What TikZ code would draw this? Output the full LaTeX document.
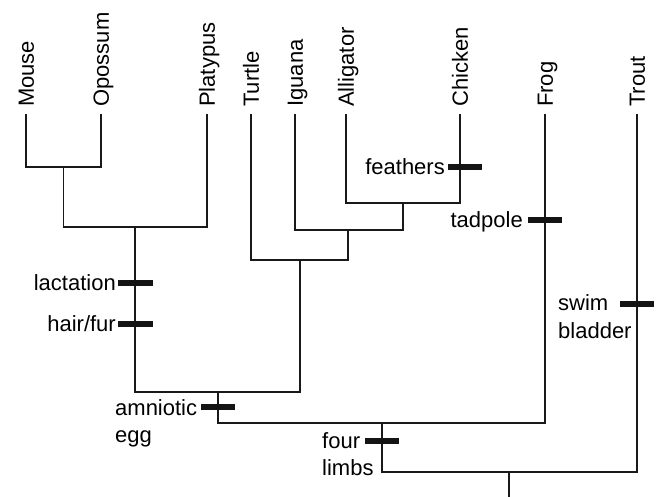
\documentclass[tikz,border=0pt]{standalone}
\usepackage{fontspec}
\setmainfont{Liberation Sans}
\begin{document}
\begin{tikzpicture}[x=1pt,y=-1pt,
  branch/.style={line width=1.5pt, line cap=rect, color=black!90},
  charbar/.style={line width=6.5pt, color=black!92},
  leaf/.style={rotate=90, anchor=base west, inner sep=0pt, font=\fontsize{22}{27}\selectfont},
  charl/.style={anchor=base east, inner sep=0pt, font=\fontsize{22}{27}\selectfont},
  charw/.style={anchor=base west, inner sep=0pt, font=\fontsize{22}{27}\selectfont}]
\useasboundingbox (0,0) rectangle (662,497);
% leaf tips
\coordinate (tMouse) at (26,115);
\coordinate (tOpossum) at (101,115);
\coordinate (tPlatypus) at (207,115);
\coordinate (tTurtle) at (251,115);
\coordinate (tIguana) at (295,115);
\coordinate (tAlligator) at (346,115);
\coordinate (tChicken) at (460,115);
\coordinate (tFrog) at (545,115);
\coordinate (tTrout) at (637,115);
% junctions
\coordinate (j1) at (63.5,167);
\coordinate (j2) at (135,227);
\coordinate (j3) at (403,203);
\coordinate (j4) at (348,230);
\coordinate (j5) at (300,260);
\coordinate (j6) at (218,392);
\coordinate (j7) at (382,423);
\coordinate (j8) at (509,472);
\coordinate (rootend) at (509,500);
% leaf labels
\node[leaf] (lMouse) at (33.9,107) {Mouse};
\node[leaf] (lOpossum) at (108.9,107) {Opossum};
\node[leaf] (lPlatypus) at (214.9,107) {Platypus};
\node[leaf] (lTurtle) at (258.9,107) {Turtle};
\node[leaf] (lIguana) at (302.9,107) {Iguana};
\node[leaf] (lAlligator) at (353.9,107) {Alligator};
\node[leaf] (lChicken) at (467.9,107) {Chicken};
\node[leaf] (lFrog) at (552.9,107) {Frog};
\node[leaf] (lTrout) at (644.9,107) {Trout};
% branches
\draw[branch] (tMouse) |- (j1) -| (tOpossum);
\draw[branch] (j1) |- (j2) -| (tPlatypus);
\draw[branch] (tAlligator) |- (j3) -| (tChicken);
\draw[branch] (tIguana) |- (j4) -| (j3);
\draw[branch] (tTurtle) |- (j5) -| (j4);
\draw[branch] (j2) |- (j6) -| (j5);
\draw[branch] (j6) |- (j7) -| (tFrog);
\draw[branch] (j7) |- (j8) -| (tTrout);
\draw[branch] (j8) -- (rootend);
% character marks
\coordinate (mFeathersA) at (448,167); \coordinate (mFeathersB) at (482,167);
\coordinate (mTadpoleA) at (528,220); \coordinate (mTadpoleB) at (562,220);
\coordinate (mLactA) at (118,283); \coordinate (mLactB) at (153,283);
\coordinate (mHairA) at (118,324); \coordinate (mHairB) at (153,324);
\coordinate (mSwimA) at (620,304); \coordinate (mSwimB) at (654,304);
\coordinate (mEggA) at (201,407); \coordinate (mEggB) at (235,407);
\coordinate (mLimbsA) at (365,441); \coordinate (mLimbsB) at (399,441);
\draw[charbar] (mFeathersA) -- (mFeathersB);
\draw[charbar] (mTadpoleA) -- (mTadpoleB);
\draw[charbar] (mLactA) -- (mLactB);
\draw[charbar] (mHairA) -- (mHairB);
\draw[charbar] (mSwimA) -- (mSwimB);
\draw[charbar] (mEggA) -- (mEggB);
\draw[charbar] (mLimbsA) -- (mLimbsB);
% character labels
\node[charl] (cFeathers) at (445,175) {feathers};
\node[charl] (cTadpole) at (523,228) {tadpole};
\node[charl] (cLact) at (116,291) {lactation};
\node[charl] (cHair) at (116,332) {hair/fur};
\node[charw] (cSwim1) at (558,311) {swim};
\node[charw] (cSwim2) at (558,338) {bladder};
\node[charw] (cEgg1) at (115,415) {amniotic};
\node[charw] (cEgg2) at (115,442) {egg};
\node[charw] (cLimbs1) at (322,448) {four};
\node[charw] (cLimbs2) at (322,475) {limbs};
\end{tikzpicture}
\end{document}
